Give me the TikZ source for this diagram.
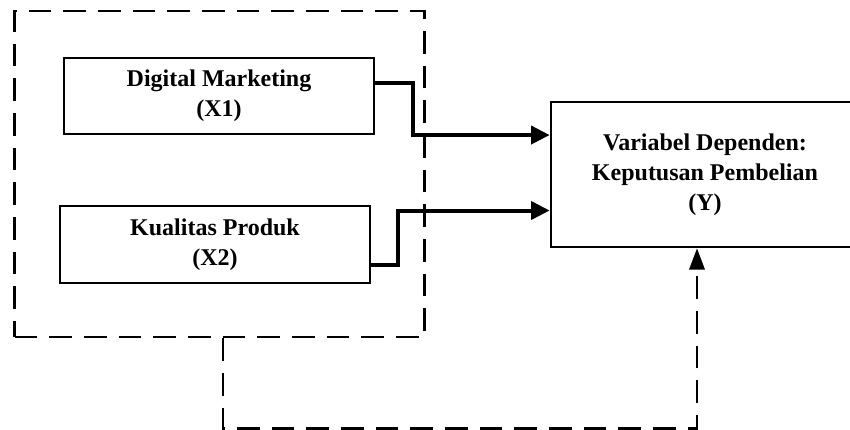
\documentclass[tikz,border=0pt]{standalone}
\usepackage{fontspec}
\setmainfont{Liberation Serif}
\usetikzlibrary{arrows.meta,positioning}

\begin{document}
\begin{tikzpicture}[x=0.75pt,y=-0.75pt,
  varbox/.style={rectangle,draw,line width=2pt,align=center,
    font=\fontsize{18}{22.5}\selectfont\bfseries},
  groupbox/.style={rectangle,draw,line width=2pt,dash pattern=on 17pt off 9pt},
  link/.style={line width=3pt,-{Triangle[length=14pt,width=13.5pt]}},
  dashlink/.style={line width=2pt,dash pattern=on 17pt off 9pt,
    -{Triangle[length=16pt,width=11.5pt]}}]
\useasboundingbox (0,0) rectangle (850,429);
% variables
\node[groupbox,minimum width=307.5pt,minimum height=244.5pt] (grp) at (219.5,174) {};
\node[varbox,minimum width=232.5pt,minimum height=57pt] (dm) at (219,96)
  {Digital Marketing\\(X1)};
\node[varbox,minimum width=232.5pt,minimum height=57.75pt] (kp) at (215,244.5)
  {Kualitas Produk\\(X2)};
\node[varbox,minimum width=231pt,minimum height=108.75pt] (kep) at (705,174.5)
  {Variabel Dependen:\\Keputusan Pembelian\\(Y)};
% connectors
\draw[link] ([yshift=9.75pt]dm.east) -- ++(28pt,0) |- ([yshift=29.6pt]kep.west);
\draw[link] ([yshift=-15.4pt]kp.east) -- ++(20pt,0) |- ([yshift=-27pt]kep.west);
\draw[dashlink] ([xshift=2.6pt]grp.south) -- ++(0,-67.5pt) -| ([xshift=-6pt]kep.south);
\end{tikzpicture}
\end{document}
